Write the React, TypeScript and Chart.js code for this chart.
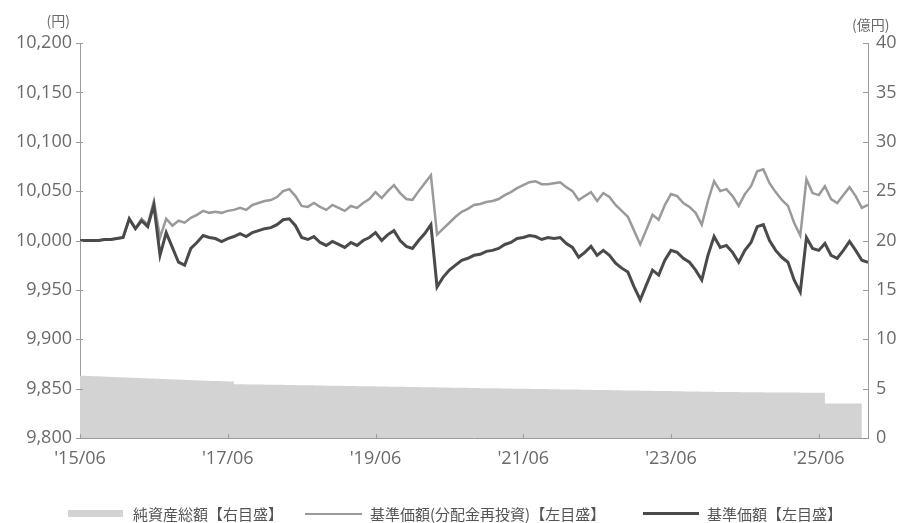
import React, { useEffect, useRef } from "react";
import { Chart, registerables } from "chart.js";

Chart.register(...registerables);

// Month offsets from 2015/06 (index = months since '15/06)
const X_TICKS = [0, 24, 48, 72, 96, 120];
const X_TICK_LABELS = ["'15/06", "'17/06", "'19/06", "'21/06", "'23/06", "'25/06"];

// 基準価額【左目盛】 (円), monthly
const NAV = [
  10000, 10000, 10000, 10000, 10001, 10001, 10002, 10003, 10022, 10012,
  10020, 10014, 10036, 9985, 10008, 9993, 9978, 9975, 9992, 9998,
  10005, 10003, 10002, 9999, 10002, 10004, 10007, 10004, 10008, 10010,
  10012, 10013, 10016, 10021, 10022, 10015, 10003, 10001, 10004, 9998,
  9995, 9999, 9996, 9993, 9998, 9995, 10000, 10003, 10008, 10000,
  10006, 10010, 10000, 9994, 9992, 10000, 10007, 10016, 9953, 9963,
  9970, 9975, 9980, 9982, 9985, 9986, 9989, 9990, 9992, 9996,
  9998, 10002, 10003, 10005, 10004, 10001, 10003, 10002, 10003, 9997,
  9993, 9983, 9988, 9994, 9985, 9990, 9985, 9977, 9972, 9968,
  9953, 9940, 9955, 9970, 9965, 9980, 9990, 9988, 9982, 9978,
  9970, 9960, 9985, 10004, 9993, 9995, 9988, 9978, 9990, 9998,
  10014, 10016, 10000, 9990, 9983, 9978, 9960, 9948, 10003, 9992,
  9990, 9997, 9985, 9982, 9990, 9999, 9990, 9980, 9978,
];

// 基準価額(分配金再投資)【左目盛】 (円), monthly
const NAV_REINV = [
  10000, 10000, 10000, 10000, 10001, 10001, 10002, 10003, 10022, 10012,
  10022, 10016, 10040, 10003, 10022, 10015, 10020, 10018, 10023, 10026,
  10030, 10028, 10029, 10028, 10030, 10031, 10033, 10031, 10036, 10038,
  10040, 10041, 10044, 10050, 10052, 10045, 10035, 10034, 10038, 10034,
  10031, 10036, 10033, 10030, 10035, 10033, 10038, 10042, 10049, 10043,
  10050, 10056, 10048, 10042, 10041, 10050, 10058, 10066, 10006, 10012,
  10018, 10024, 10029, 10032, 10036, 10037, 10039, 10040, 10042, 10046,
  10049, 10053, 10056, 10059, 10060, 10057, 10057, 10058, 10059, 10054,
  10050, 10041, 10045, 10049, 10040, 10048, 10044, 10036, 10030, 10024,
  10010, 9996, 10011, 10026, 10021, 10036, 10047, 10045, 10038, 10034,
  10028, 10016, 10040, 10060, 10050, 10052, 10045, 10035, 10047, 10055,
  10070, 10072, 10058, 10049, 10041, 10035, 10018, 10005, 10062, 10048,
  10046, 10055, 10042, 10038, 10046, 10054, 10045, 10033, 10036,
];

// 純資産総額【右目盛】 (億円), monthly
const NET_ASSETS: (number | null)[] = [
  6.3, 6.28, 6.25, 6.22, 6.2, 6.18, 6.15, 6.12, 6.1, 6.08,
  6.05, 6.03, 6.0, 5.98, 5.95, 5.93, 5.9, 5.88, 5.85, 5.83,
  5.8, 5.78, 5.76, 5.74, 5.72, 5.45, 5.44, 5.43, 5.42, 5.41,
  5.4, 5.39, 5.38, 5.37, 5.36, 5.35, 5.34, 5.33, 5.32, 5.31,
  5.3, 5.29, 5.28, 5.27, 5.26, 5.25, 5.24, 5.23, 5.22, 5.21,
  5.2, 5.19, 5.18, 5.17, 5.16, 5.15, 5.14, 5.13, 5.12, 5.11,
  5.1, 5.09, 5.08, 5.07, 5.06, 5.05, 5.04, 5.03, 5.02, 5.01,
  5.0, 4.99, 4.98, 4.97, 4.96, 4.95, 4.94, 4.93, 4.92, 4.91,
  4.9, 4.89, 4.88, 4.87, 4.86, 4.85, 4.84, 4.83, 4.82, 4.81,
  4.8, 4.79, 4.78, 4.77, 4.76, 4.75, 4.74, 4.73, 4.72, 4.71,
  4.7, 4.69, 4.68, 4.67, 4.66, 4.65, 4.65, 4.64, 4.64, 4.63,
  4.63, 4.62, 4.62, 4.61, 4.61, 4.6, 4.6, 4.59, 4.59, 4.58,
  4.58, 3.5, 3.5, 3.5, 3.5, 3.5, 3.5, 3.5, null,
];

const LEGEND_LABELS = ["純資産総額【右目盛】", "基準価額(分配金再投資)【左目盛】", "基準価額【左目盛】"];

const C_AREA = "#d3d3d3";
const C_LIGHT = "#9a9a9a";
const C_DARK = "#4a4a4a";
const C_TEXT = "#6a6a6a";
const C_AXIS = "#9c9c9c";
const TICK_FONT = { family: "'Open Sans', 'Noto Sans', sans-serif", size: 18 };

const toXY = (arr: (number | null)[]) => arr.map((v, i) => ({ x: i, y: v }));

const customPlugin = {
  id: "customTicks",
  afterDraw(chart: any) {
    const { ctx, chartArea, scales } = chart;
    const { left, right, bottom } = chartArea;
    ctx.save();
    ctx.strokeStyle = C_AXIS;
    ctx.lineWidth = 1;
    ctx.beginPath();
    scales.y.ticks.forEach((t: any) => {
      const y = Math.round(scales.y.getPixelForValue(t.value)) + 0.5;
      ctx.moveTo(left - 4, y);
      ctx.lineTo(left + 3, y);
    });
    scales.y1.ticks.forEach((t: any) => {
      const y = Math.round(scales.y1.getPixelForValue(t.value)) + 0.5;
      ctx.moveTo(right - 5, y);
      ctx.lineTo(right, y);
    });
    scales.x.ticks.forEach((t: any) => {
      const x = Math.round(scales.x.getPixelForValue(t.value)) + 0.5;
      ctx.moveTo(x, bottom);
      ctx.lineTo(x, bottom - 4);
    });
    ctx.stroke();
    ctx.fillStyle = C_TEXT;
    ctx.font = "14px 'Noto Sans CJK JP'";
    ctx.textBaseline = "middle";
    ctx.textAlign = "right";
    ctx.fillText("(円)", 70, 21);
    ctx.textAlign = "left";
    ctx.fillText("(億円)", 852, 25);
    ctx.restore();
  },
};

export default function App() {
  const ref = useRef<HTMLCanvasElement>(null);

  useEffect(() => {
    if (!ref.current) return;
    const chart = new Chart(ref.current, {
      type: "line",
      data: {
        datasets: [
          {
            label: LEGEND_LABELS[2],
            data: toXY(NAV),
            yAxisID: "y",
            borderColor: C_DARK,
            borderWidth: 3,
            pointRadius: 0,
            tension: 0,
            fill: false,
          },
          {
            label: LEGEND_LABELS[1],
            data: toXY(NAV_REINV),
            yAxisID: "y",
            borderColor: C_LIGHT,
            borderWidth: 2.5,
            pointRadius: 0,
            tension: 0,
            fill: false,
          },
          {
            label: LEGEND_LABELS[0],
            data: toXY(NET_ASSETS),
            yAxisID: "y1",
            borderColor: C_AREA,
            backgroundColor: C_AREA,
            borderWidth: 0,
            pointRadius: 0,
            stepped: true,
            fill: "origin",
          },
        ],
      },
      options: {
        animation: false,
        responsive: false,
        maintainAspectRatio: false,
        layout: { padding: { top: 43, left: 0, right: 0, bottom: 0 } },
        plugins: { legend: { display: false }, tooltip: { enabled: false } },
        scales: {
          x: {
            type: "linear",
            min: 0,
            max: 128,
            afterBuildTicks: (s: any) => {
              s.ticks = X_TICKS.map((v) => ({ value: v }));
            },
            afterFit: (s: any) => {
              s.height = 32;
            },
            ticks: {
              autoSkip: false,
              maxRotation: 0,
              padding: 10,
              color: C_TEXT,
              font: TICK_FONT,
              callback: (v: any) => {
                const i = X_TICKS.indexOf(Number(v));
                return i >= 0 ? X_TICK_LABELS[i] : "";
              },
            },
            grid: { display: false, drawTicks: false },
            border: { display: true, color: C_AXIS, width: 1 },
          },
          y: {
            position: "left",
            min: 9800,
            max: 10200,
            afterBuildTicks: (s: any) => {
              const t = [];
              for (let v = 9800; v <= 10200; v += 50) t.push({ value: v });
              s.ticks = t;
            },
            afterFit: (s: any) => {
              s.width = 80;
            },
            ticks: {
              padding: 8,
              color: C_TEXT,
              font: TICK_FONT,
              callback: (v: any) => Number(v).toLocaleString("en-US"),
            },
            grid: { display: false, drawTicks: false },
            border: { display: true, color: C_AXIS, width: 1 },
          },
          y1: {
            position: "right",
            min: 0,
            max: 40,
            afterBuildTicks: (s: any) => {
              const t = [];
              for (let v = 0; v <= 40; v += 5) t.push({ value: v });
              s.ticks = t;
            },
            afterFit: (s: any) => {
              s.width = 30;
            },
            ticks: {
              padding: 8,
              color: C_TEXT,
              font: TICK_FONT,
            },
            grid: { display: false, drawTicks: false },
            border: { display: true, color: C_AXIS, width: 1 },
          },
        },
      },
      plugins: [customPlugin],
    });
    return () => chart.destroy();
  }, []);

  const legendText: React.CSSProperties = {
    position: "absolute",
    top: 504,
    fontFamily: "'Noto Sans CJK JP', sans-serif",
    fontSize: 15,
    lineHeight: "20px",
    color: "#555",
    whiteSpace: "nowrap",
  };

  return (
    <div style={{ position: "fixed", left: 0, top: 0, width: 898, height: 523, background: "#fff" }}>
      <canvas ref={ref} width={898} height={470} style={{ position: "absolute", left: 0, top: 0, width: 898, height: 470 }} />
      <div style={{ position: "absolute", left: 68, top: 510, width: 55, height: 7, background: C_AREA }} />
      <div style={{ ...legendText, left: 133 }}>{LEGEND_LABELS[0]}</div>
      <div style={{ position: "absolute", left: 305, top: 513, width: 57, height: 2, background: C_LIGHT }} />
      <div style={{ ...legendText, left: 370 }}>{LEGEND_LABELS[1]}</div>
      <div style={{ position: "absolute", left: 643, top: 512, width: 56, height: 3, background: C_DARK }} />
      <div style={{ ...legendText, left: 707 }}>{LEGEND_LABELS[2]}</div>
    </div>
  );
}
